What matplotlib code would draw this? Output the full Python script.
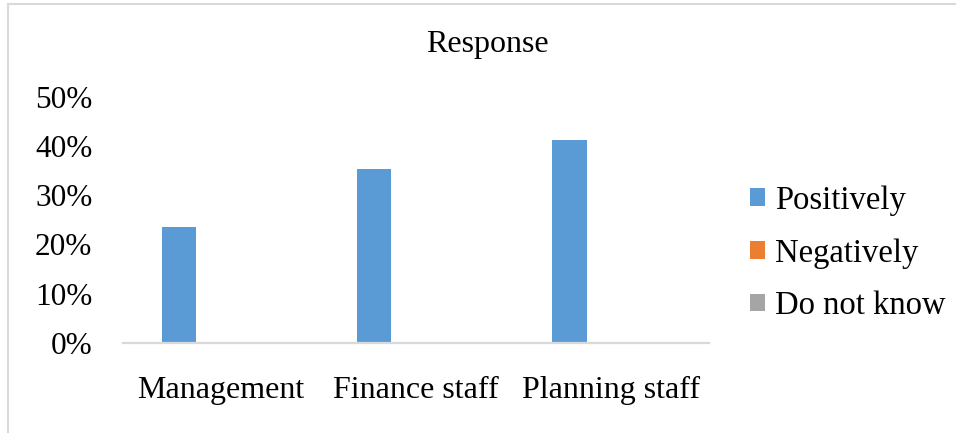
import matplotlib
matplotlib.use("Agg")
import matplotlib.pyplot as plt
from matplotlib.patches import Rectangle
import numpy as np

# chart data
categories = ["Management", "Finance staff", "Planning staff"]
series_names = ["Positively", "Negatively", "Do not know"]
positively = [0.235, 0.353, 0.412]
negatively = [0.0, 0.0, 0.0]
do_not_know = [0.0, 0.0, 0.0]
y_ticks = [0.0, 0.1, 0.2, 0.3, 0.4, 0.5]

colors = ["#5B9BD5", "#ED7D31", "#A5A5A5"]
plt.rcParams["font.family"] = ["Liberation Serif", "DejaVu Serif"]

fig = plt.figure(figsize=(9.56, 4.33), dpi=100)
ax = fig.add_axes([0.1287, 0.2079, 0.613, 0.569])

x = np.arange(len(categories))
bar_w = 0.176
offsets = [-0.214, 0.0, 0.214]
for vals, name, col, off in zip([positively, negatively, do_not_know], series_names, colors, offsets):
    ax.bar(x + off, vals, width=bar_w, color=col, label=name)

ax.set_xlim(-0.5, len(categories) - 0.5)
ax.set_ylim(0, 0.5)
ax.set_yticks(y_ticks)
ax.set_yticklabels([f"{int(round(t * 100))}%" for t in y_ticks])
ax.set_xticks(x)
ax.set_xticklabels(categories)
ax.tick_params(axis="both", length=0, colors="black")
ax.tick_params(axis="y", pad=22, labelsize=22.5)
ax.tick_params(axis="x", pad=24, labelsize=23)

for side in ["top", "right", "left"]:
    ax.spines[side].set_visible(False)
ax.spines["bottom"].set_color("#D9D9D9")
ax.spines["bottom"].set_linewidth(1.6)

fig.text(0.51, 0.898, "Response", ha="center", va="center", fontsize=23)

ax.legend(loc="center left", bbox_to_anchor=(0.785, 0.415), bbox_transform=fig.transFigure,
          frameon=False, fontsize=23.5, handlelength=0.45, handleheight=0.45,
          handletextpad=0.3, labelspacing=0.68, borderpad=0, borderaxespad=0)

# light outer chart border
fig.patches.append(Rectangle((8 / 956, -0.05), 1.1, (433 - 4) / 433 + 0.05,
                             transform=fig.transFigure, fill=False,
                             edgecolor="#D9D9D9", linewidth=1.5))

fig.savefig("out.png", dpi=100)
